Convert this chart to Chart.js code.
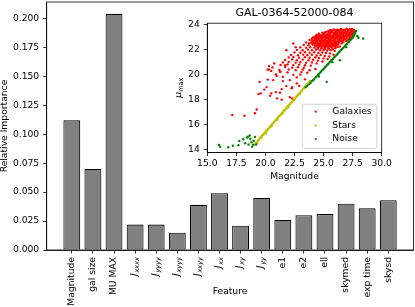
<!DOCTYPE html>
<html lang="en">
<head>
<meta charset="UTF-8">
<title>Feature importance</title>
<script src="https://cdn.jsdelivr.net/npm/chart.js"></script>
<style>
  html, body { margin: 0; padding: 0; background: #fff; }
  .wrap { position: relative; width: 415px; height: 307px; }
  .wrap canvas { position: absolute; left: 0; top: 0; }
</style>
</head>
<body>
<div class="wrap">
  <canvas id="mainChart" width="415" height="307"></canvas>
  <canvas id="insetChart" width="415" height="307"></canvas>
</div>
<script>
// feature importances (main bar chart)
const features = ['Magnitude', 'gal size', 'MU MAX', 'J_xxxx', 'J_yyyy', 'J_xyyy', 'J_xxyy', 'J_xx', 'J_xy', 'J_yy',
  'e1', 'e2', 'ell', 'skymed', 'exp time', 'skysd'];
const importance = [0.112, 0.070, 0.204, 0.022, 0.022, 0.015, 0.039, 0.049, 0.021, 0.045,
  0.026, 0.030, 0.031, 0.040, 0.036, 0.043];
const importanceTicks = [0, 0.025, 0.05, 0.075, 0.1, 0.125, 0.15, 0.175, 0.2];

// inset: magnitude vs mu_max for GAL-0364-52000-084
const insetTitle = 'GAL-0364-52000-084';
const magTicks = [15, 17.5, 20, 22.5, 25, 27.5, 30];
const muTicks = [14, 16, 18, 20, 22, 24];
const classNames = ['Galaxies', 'Stars', 'Noise'];

const galaxies = [
  [25.6,23.58],[25.9,23.62],[26.2,23.6],[26.5,23.66],[26.75,23.6],[27.0,23.68],[27.25,23.63],[27.45,23.66],[27.6,23.58],
  [25.4,23.48],[25.75,23.52],[26.05,23.47],[26.35,23.53],[26.65,23.5],[26.9,23.46],[27.15,23.52],[27.4,23.49],[27.6,23.45],
  [24.9,23.36],[25.2,23.42],[25.45,23.38],[25.7,23.41],[26.0,23.37],[26.3,23.43],[26.55,23.39],[26.8,23.35],[27.05,23.41],[27.3,23.37],[27.5,23.33],
  [24.6,23.27],[25.05,23.31],[25.35,23.26],[25.6,23.3],[25.95,23.28],[26.2,23.25],[26.45,23.31],[26.7,23.27],[26.95,23.24],[27.2,23.29],[27.45,23.22],[27.65,23.3],
  [24.4,23.18],[24.7,23.15],[24.95,23.21],[25.25,23.17],[25.5,23.2],[25.8,23.14],[26.05,23.19],[26.35,23.16],[26.6,23.21],[26.9,23.15],[27.15,23.18],[27.35,23.13],[27.55,23.17],
  [24.3,23.08],[24.6,23.05],[24.85,23.1],[25.15,23.06],[25.4,23.09],[25.7,23.04],[25.95,23.1],[26.25,23.07],[26.5,23.03],[26.8,23.08],[27.05,23.05],[27.3,23.02],[27.5,22.98],
  [24.1,22.98],[24.45,23.0],[24.75,22.96],[25.0,23.01],[25.3,22.97],[25.55,22.99],[25.85,22.95],[26.1,23.0],[26.4,22.96],[26.65,22.98],[26.95,22.94],[27.2,22.9],
  [24.0,22.88],[24.35,22.86],[24.65,22.9],[24.9,22.85],[25.2,22.89],[25.45,22.86],[25.75,22.91],[26.0,22.87],[26.3,22.84],[26.55,22.88],[26.85,22.83],[27.1,22.8],
  [23.8,22.78],[24.2,22.75],[24.5,22.79],[24.8,22.76],[25.1,22.8],[25.35,22.74],[25.6,22.78],[25.9,22.75],[26.2,22.79],[26.45,22.73],[26.7,22.76],[26.95,22.7],
  [24.1,22.66],[24.45,22.69],[24.75,22.64],[25.05,22.68],[25.3,22.65],[25.55,22.7],[25.8,22.66],[26.1,22.63],[26.4,22.67],[26.7,22.6],
  [23.5,22.58],[23.9,22.55],[24.3,22.59],[24.6,22.56],[24.9,22.6],[25.15,22.54],[25.45,22.57],[25.7,22.53],[26.0,22.58],[26.3,22.55],[26.55,22.5],
  [24.25,22.47],[24.6,22.44],[24.9,22.49],[25.2,22.45],[25.45,22.48],[25.75,22.43],[26.0,22.46],[26.25,22.42],
  [23.3,22.38],[23.7,22.36],[24.05,22.4],[24.4,22.35],[24.7,22.39],[25.0,22.34],[25.3,22.37],[25.55,22.33],[25.85,22.38],[26.1,22.3],[26.4,22.25],
  [24.4,22.27],[24.75,22.3],[25.05,22.25],[25.3,22.28],[25.6,22.24],[25.9,22.27],[26.2,22.2],
  [23.0,22.18],[23.5,22.15],[23.85,22.2],[24.2,22.16],[24.55,22.19],[24.85,22.14],[25.15,22.17],[25.4,22.13],[25.7,22.16],[26.0,22.12],
  [24.5,22.07],[24.8,22.1],[25.1,22.05],[25.45,22.08],[25.8,22.03],
  [22.7,21.98],[23.2,21.95],[23.65,22.0],[24.0,21.96],[24.35,21.99],[24.7,21.94],[25.0,21.97],[25.3,21.93],[25.6,21.96],[25.95,21.9],
  [22.5,21.78],[23.0,21.75],[23.4,21.8],[23.8,21.76],[24.2,21.79],[24.55,21.74],[24.9,21.77],[25.2,21.73],[25.55,21.7],[25.85,21.6],
  [22.2,21.58],[22.8,21.55],[23.25,21.6],[23.6,21.56],[24.0,21.59],[24.4,21.54],[24.75,21.57],[25.1,21.5],[25.5,21.45],
  [22.0,21.38],[22.4,21.42],[22.9,21.36],[23.4,21.4],[23.8,21.35],[24.3,21.39],[24.6,21.33],[25.0,21.3],[25.35,21.25],
  [21.7,21.18],[22.3,21.22],[22.7,21.15],[23.2,21.2],[23.7,21.16],[24.1,21.19],[24.5,21.12],[24.9,21.05],
  [21.5,20.98],[22.0,21.02],[22.6,20.96],[23.0,21.0],[23.5,20.95],[24.0,20.98],[24.4,20.9],
  [21.3,20.78],[21.9,20.82],[22.4,20.76],[22.9,20.8],[23.4,20.75],[23.9,20.72],
  [20.6,20.58],[21.7,20.62],[22.3,20.56],[22.8,20.6],[23.3,20.55],[24.3,20.45],
  [20.3,20.42],[21.2,20.38],[22.0,20.41],[22.6,20.36],[23.2,20.4],[23.8,20.35],
  [21.3,20.22],[21.9,20.18],[23.1,20.2],[23.6,20.15],
  [20.9,20.02],[22.4,19.98],[23.0,20.0],
  [21.5,19.82],[22.7,19.78],
  [20.2,19.6],[22.1,19.56],[23.4,19.62],
  [19.5,19.42],[21.5,19.48],
  [19.9,18.8],[19.6,18.5],[20.3,20.7],[20.5,20.3],[20.76,20.9],[20.2,20.4],[20.97,19.88],[21.25,20.22],
  [21.8,19.08],[22.26,18.9],[19.4,18.44],[20.4,18.3],[20.5,18.5],[20.9,18.6],[21.4,18.0],[21.0,18.1],
  [22.1,18.2],[21.25,18.55],[17.15,16.76],[18.2,16.7],[19.1,16.9],[19.25,17.2],[21.4,18.84],[22.3,18.1],
  [22.7,19.3],[22.3,19.0],[20.1,19.0],[20.67,19.56],[21.7,20.76],[22.4,22.5],[21.8,21.96],[22.6,22.2],[22.9,19.1],
  // filling of the dense core
  [25.55,23.55],[25.85,23.57],[26.1,23.55],[26.4,23.58],[26.6,23.56],[26.85,23.58],[27.1,23.57],[27.35,23.55],[27.55,23.52],
  [25.1,23.35],[25.55,23.36],[25.85,23.34],[26.15,23.35],[26.4,23.36],[26.65,23.33],[26.95,23.34],[27.2,23.32],[27.4,23.3],
  [24.55,23.12],[24.8,23.13],[25.1,23.12],[25.35,23.14],[25.6,23.12],[25.9,23.13],[26.15,23.12],[26.45,23.13],[26.7,23.12],[27.0,23.11],[27.25,23.1],
  [24.25,22.93],[24.55,22.94],[24.85,22.92],[25.1,22.94],[25.4,22.93],[25.65,22.94],[25.95,22.92],[26.2,22.93],[26.5,22.92],[26.75,22.9],
  [24.0,22.72],[24.35,22.72],[24.65,22.72],[24.95,22.73],[25.2,22.72],[25.45,22.72],[25.7,22.73],[25.95,22.71],[26.25,22.7],[26.55,22.68],
  [23.75,22.5],[24.1,22.52],[24.45,22.5],[24.75,22.52],[25.05,22.5],[25.35,22.52],[25.6,22.5],[25.9,22.5],[26.15,22.48],
  [24.25,22.32],[24.6,22.3],[24.9,22.32],[25.2,22.3],[25.45,22.32],[25.75,22.3],[26.05,22.28]
];

const stars = [
  [19.12,14.42],[19.2,14.57],[19.27,14.6],[19.36,14.74],[19.41,14.77],[19.5,14.86],[19.58,14.97],[19.62,15.0],
  [19.71,15.12],[19.77,15.16],[19.86,15.22],[19.92,15.35],[20.01,15.38],[20.07,15.52],[20.16,15.5],[20.22,15.65],
  [20.31,15.7],[20.37,15.82],[20.46,15.84],[20.51,15.97],[20.6,16.03],[20.69,16.12],[20.74,16.2],[20.84,16.3],
  [20.9,16.33],[20.97,16.47],[21.06,16.49],[21.12,16.64],[21.21,16.68],[21.27,16.77],[21.36,16.83],[21.42,16.94],
  [21.51,16.98],[21.57,17.12],[21.66,17.13],[21.72,17.27],[21.81,17.29],[21.87,17.44],[21.96,17.46],[22.02,17.57],
  [22.11,17.63],[22.17,17.74],[22.26,17.78],[22.32,17.9],[22.41,17.93],[22.47,18.07],[22.56,18.08],[22.62,18.22],
  [22.71,18.26],[22.77,18.37],[22.86,18.4],[22.92,18.54],[23.01,18.58],[23.07,18.7],[23.16,18.73],[23.22,18.87],
  [23.31,18.9],[23.37,19.02],[23.46,19.06],[23.52,19.17],[23.61,19.23],[23.67,19.32],[23.76,19.38],[23.83,19.5],
  [19.3,14.52],[19.65,14.93],[20.05,15.3],[20.55,15.88],[21.0,16.38],[21.45,16.86],[21.95,17.38],[22.45,17.98],[22.95,18.45],[23.45,18.98]
];

const noise = [
  [16.0,14.36],[16.1,14.22],[16.8,14.18],[17.2,14.3],[17.75,14.68],[17.68,14.35],[18.1,14.82],[18.25,14.5],
  [18.5,15.02],[18.55,14.4],[18.7,14.86],[18.8,14.58],[18.85,14.22],[18.95,14.38],[19.0,14.7],[19.1,15.0],
  [19.2,14.4],[18.4,14.95],[18.65,15.12],
  [23.45,19.0],[23.58,19.1],[23.74,19.22],[23.88,19.33],[23.98,19.48],[24.1,19.55],[24.19,19.64],[24.31,19.77],
  [24.4,19.86],[24.52,19.97],[24.6,20.06],[24.71,20.17],[24.79,20.26],[24.91,20.37],[25.0,20.46],[25.11,20.57],
  [25.19,20.66],[25.31,20.77],[25.4,20.85],[25.5,20.97],[25.61,21.06],[25.69,21.17],[25.81,21.25],[25.9,21.37],
  [26.0,21.46],[26.1,21.56],[26.21,21.66],[26.3,21.77],[26.39,21.85],[26.51,21.97],[26.6,22.06],[26.7,22.16],
  [26.81,22.26],[26.9,22.37],[27.0,22.46],[27.1,22.57],[27.2,22.65],[27.3,22.77],[27.39,22.86],[27.5,22.97],
  [27.55,23.06],[27.61,23.15],[27.65,23.26],[27.71,23.34],[27.75,23.45],[27.8,23.52],
  [25.27,19.42],[26.4,21.16],[28.0,22.95],[28.4,22.9],[27.9,23.1],[26.95,22.2],[25.75,21.0],[24.6,19.85]
];

Chart.defaults.font.family = '"DejaVu Sans"';
Chart.defaults.color = '#000';
const baseFont = { family: '"DejaVu Sans"', size: 9.2 };

// top/right spines, like matplotlib
const framePlugin = {
  id: 'frame',
  afterDraw(chart) {
    const { ctx, chartArea: a } = chart;
    ctx.save();
    ctx.strokeStyle = '#000';
    ctx.lineWidth = 0.8;
    ctx.strokeRect(a.left, a.top, a.right - a.left, a.bottom - a.top);
    ctx.restore();
  }
};

// rotated feature names, J_xx style labels get an italic subscript
const featureLabels = {
  id: 'featureLabels',
  afterDraw(chart) {
    const ctx = chart.ctx;
    const xs = chart.scales.x;
    const top = chart.chartArea.bottom + 7;
    ctx.save();
    ctx.fillStyle = '#000';
    ctx.textBaseline = 'middle';
    features.forEach((name, i) => {
      ctx.save();
      ctx.translate(xs.getPixelForValue(i), top);
      ctx.rotate(-Math.PI / 2);
      if (name.startsWith('J_')) {
        const sub = name.slice(2);
        ctx.font = 'italic 9.2px "DejaVu Sans"';
        const wJ = ctx.measureText('J').width;
        ctx.font = 'italic 6.6px "DejaVu Sans"';
        const wS = ctx.measureText(sub).width;
        const start = -(wJ + wS + 0.8);
        ctx.textAlign = 'left';
        ctx.font = 'italic 9.2px "DejaVu Sans"';
        ctx.fillText('J', start, -0.8);
        ctx.font = 'italic 6.6px "DejaVu Sans"';
        ctx.fillText(sub, start + wJ + 0.8, 1.8);
      } else {
        ctx.font = '9.2px "DejaVu Sans"';
        ctx.textAlign = 'right';
        ctx.fillText(name, 0, 0);
      }
      ctx.restore();
    });
    ctx.restore();
  }
};

new Chart(document.getElementById('mainChart'), {
  type: 'bar',
  data: {
    datasets: [{
      label: 'Relative Importance',
      data: features.map((f, i) => ({ x: i, y: importance[i] })),
      backgroundColor: '#808080',
      borderColor: '#000',
      borderWidth: 1.1,
      borderSkipped: false,
      barPercentage: 1,
      categoryPercentage: 0.8
    }]
  },
  options: {
    responsive: false,
    animation: false,
    layout: { padding: { left: 0, right: 1.6, top: 2, bottom: 0 } },
    plugins: { legend: { display: false }, tooltip: { enabled: false } },
    scales: {
      x: {
        type: 'linear',
        offset: false,
        min: -1.19,
        max: 16.19,
        afterBuildTicks: s => { s.ticks = features.map((f, i) => ({ value: i })); },
        afterFit: s => { s.height = 57; s.paddingLeft = 0; s.paddingRight = 0; },
        ticks: { display: false },
        grid: { offset: false, drawOnChartArea: false, tickLength: 3.5, color: '#000', lineWidth: 0.8 },
        border: { color: '#000', width: 0.8 },
        title: { display: true, text: 'Feature', font: baseFont, color: '#000', padding: { top: 0, bottom: 9.8 } }
      },
      y: {
        min: 0,
        max: 0.2142,
        afterBuildTicks: s => { s.ticks = importanceTicks.map(v => ({ value: v })); },
        afterFit: s => { s.width = 46.7; s.paddingTop = 0; s.paddingBottom = 0; },
        ticks: { callback: v => v.toFixed(3), font: baseFont, color: '#000', padding: 4 },
        grid: { drawOnChartArea: false, tickLength: 3.5, color: '#000', lineWidth: 0.8 },
        border: { color: '#000', width: 0.8 },
        title: { display: true, text: 'Relative Importance', font: baseFont, color: '#000', padding: { top: -0.8, bottom: 0 } }
      }
    }
  },
  plugins: [framePlugin, featureLabels]
});

// white plot background for the inset
const insetBg = {
  id: 'insetBg',
  beforeDraw(chart) {
    const { ctx, chartArea: a } = chart;
    ctx.save();
    ctx.fillStyle = '#fff';
    ctx.fillRect(a.left, a.top, a.right - a.left, a.bottom - a.top);
    ctx.restore();
  }
};

// y label mu_max with subscript
const muLabel = {
  id: 'muLabel',
  afterDraw(chart) {
    const { ctx, chartArea: a } = chart;
    ctx.save();
    ctx.translate(a.left - 29.5, (a.top + a.bottom) / 2);
    ctx.rotate(-Math.PI / 2);
    ctx.fillStyle = '#000';
    ctx.textBaseline = 'alphabetic';
    ctx.textAlign = 'left';
    ctx.font = 'italic 9.2px "DejaVu Sans"';
    const wMu = ctx.measureText('μ').width;
    ctx.font = '6.5px "DejaVu Sans"';
    const wSub = ctx.measureText('max').width;
    const x0 = -(wMu + wSub) / 2;
    ctx.font = 'italic 9.2px "DejaVu Sans"';
    ctx.fillText('μ', x0, 3);
    ctx.font = '6.5px "DejaVu Sans"';
    ctx.fillText('max', x0 + wMu + 0.3, 5);
    ctx.restore();
  }
};

// legend box in the lower right corner of the inset
const insetLegend = {
  id: 'insetLegend',
  afterDraw(chart) {
    const { ctx, chartArea: a } = chart;
    const w = 74.4, h = 44;
    const x = a.right - 5 - w, y = a.bottom - 4.2 - h;
    ctx.save();
    ctx.beginPath();
    ctx.roundRect(x, y, w, h, 2);
    ctx.fillStyle = 'rgba(255,255,255,0.8)';
    ctx.fill();
    ctx.strokeStyle = '#cccccc';
    ctx.lineWidth = 0.8;
    ctx.stroke();
    ctx.font = '9.2px "DejaVu Sans"';
    ctx.textBaseline = 'middle';
    ctx.textAlign = 'left';
    classNames.forEach((name, i) => {
      const ds = chart.data.datasets.find(d => d.label === name);
      const cy = y + 7.4 + i * 13.7;
      ctx.fillStyle = ds.backgroundColor;
      ctx.beginPath();
      ctx.arc(x + 13.4, cy, 1.1, 0, Math.PI * 2);
      ctx.fill();
      ctx.fillStyle = '#000';
      ctx.fillText(name, x + 30, cy);
    });
    ctx.restore();
  }
};

const toXY = arr => arr.map(p => ({ x: p[0], y: p[1] }));

new Chart(document.getElementById('insetChart'), {
  type: 'scatter',
  data: {
    datasets: [
      { label: 'Galaxies', data: toXY(galaxies), backgroundColor: '#ff0000', pointRadius: 1.2, borderWidth: 0, order: 2 },
      { label: 'Stars', data: toXY(stars), backgroundColor: '#bfbf00', pointRadius: 1.2, borderWidth: 0, order: 1 },
      { label: 'Noise', data: toXY(noise), backgroundColor: '#008000', pointRadius: 1.2, borderWidth: 0, order: 0 }
    ]
  },
  options: {
    responsive: false,
    animation: false,
    layout: { padding: { left: 177.3, right: 33.3, top: 5, bottom: 124.5 } },
    plugins: {
      legend: { display: false },
      tooltip: { enabled: false },
      title: { display: true, text: insetTitle, fullSize: false, font: { family: '"DejaVu Sans"', size: 11, weight: 'normal' }, color: '#000', padding: { top: 2, bottom: 3 } }
    },
    scales: {
      x: {
        type: 'linear',
        min: 15,
        max: 30,
        afterBuildTicks: s => { s.ticks = magTicks.map(v => ({ value: v })); },
        afterFit: s => { s.height = 30; s.paddingLeft = 0; s.paddingRight = 0; },
        ticks: { callback: v => v.toFixed(1), font: baseFont, color: '#000', padding: 2.5, maxRotation: 0 },
        grid: { drawOnChartArea: false, tickLength: 3.5, color: '#000', lineWidth: 0.8 },
        border: { color: '#000', width: 0.8 },
        title: { display: true, text: 'Magnitude', font: baseFont, color: '#000', padding: { top: 0, bottom: 0 } }
      },
      y: {
        min: 13.76,
        max: 24.12,
        afterBuildTicks: s => { s.ticks = muTicks.map(v => ({ value: v })); },
        afterFit: s => { s.width = 30; s.paddingTop = 0; s.paddingBottom = 0; },
        ticks: { callback: v => String(v), font: baseFont, color: '#000', padding: 4 },
        grid: { drawOnChartArea: false, tickLength: 3.5, color: '#000', lineWidth: 0.8 },
        border: { color: '#000', width: 0.8 }
      }
    }
  },
  plugins: [insetBg, framePlugin, muLabel, insetLegend]
});
</script>
</body>
</html>
